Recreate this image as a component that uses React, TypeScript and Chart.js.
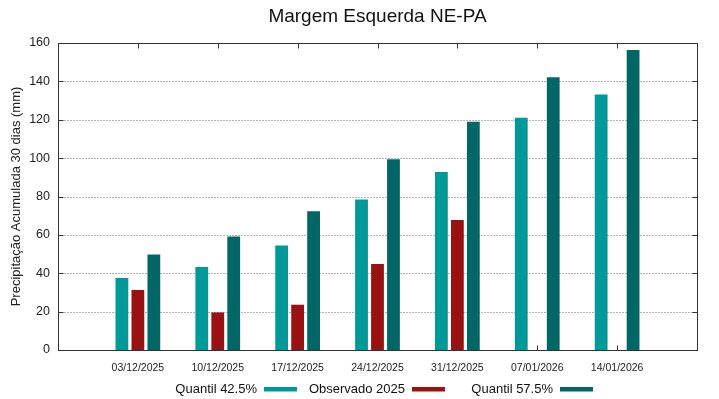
import React, { useEffect, useRef } from "react";
import { Chart, registerables } from "chart.js";

Chart.register(...registerables);

const titleText = "Margem Esquerda NE-PA";
const yAxisTitle = "Precipitação Acumulada 30 dias (mm)";
const dates = ["03/12/2025", "10/12/2025", "17/12/2025", "24/12/2025", "31/12/2025", "07/01/2026", "14/01/2026"];
const quantil425 = [37.5, 43.3, 54.4, 78.5, 92.8, 121.1, 133.1];
const observado2025 = [31.3, 19.6, 23.6, 44.8, 67.8, null, null];
const quantil575 = [49.8, 59.1, 72.3, 99.4, 119.0, 142.1, 156.4];
const seriesNames = ["Quantil 42.5%", "Observado 2025", "Quantil 57.5%"];
const seriesColors = ["#009999", "#991111", "#006666"];
const yMin = 0;
const yMax = 160;
const yStep = 20;

const FONT = '"Liberation Sans", Arial, sans-serif';

const pad = (arr: (number | null)[]) => [null, ...arr, null];

const decorPlugin = {
  id: "decor",
  beforeDatasetsDraw(chart: any) {
    const { ctx, chartArea: a, scales } = chart;
    const y = scales.y;
    ctx.save();
    ctx.strokeStyle = "#b4b4b4";
    ctx.lineWidth = 1;
    ctx.setLineDash([2, 1]);
    for (const t of y.ticks) {
      if (t.value === yMin || t.value === yMax) continue;
      const py = Math.round(y.getPixelForValue(t.value)) + 0.5;
      ctx.beginPath();
      ctx.moveTo(a.left, py);
      ctx.lineTo(a.right, py);
      ctx.stroke();
    }
    ctx.restore();
  },
  afterDatasetsDraw(chart: any) {
    const { ctx, chartArea: a, scales } = chart;
    const y = scales.y;
    const x = scales.x;
    ctx.save();
    ctx.strokeStyle = "#333333";
    ctx.lineWidth = 1;
    const L = Math.round(a.left) + 0.5;
    const R = Math.round(a.right) + 0.5;
    const T = Math.round(a.top) + 0.5;
    const B = Math.round(a.bottom) + 0.5;
    ctx.strokeRect(L, T, R - L, B - T);
    const tl = 5;
    ctx.beginPath();
    for (const t of y.ticks) {
      const py = Math.round(y.getPixelForValue(t.value)) + 0.5;
      ctx.moveTo(L, py);
      ctx.lineTo(L + tl, py);
      ctx.moveTo(R, py);
      ctx.lineTo(R - tl, py);
    }
    for (let i = 0; i < dates.length; i++) {
      const px = Math.round(x.getPixelForValue(i + 1)) + 0.5;
      ctx.moveTo(px, T);
      ctx.lineTo(px, T + tl);
      ctx.moveTo(px, B);
      ctx.lineTo(px, B - tl);
    }
    ctx.stroke();

    // title
    ctx.fillStyle = "#111111";
    ctx.font = `19px ${FONT}`;
    ctx.textAlign = "center";
    ctx.textBaseline = "alphabetic";
    const cx = (a.left + a.right) / 2;
    ctx.fillText(titleText, cx, 22);

    // legend (text then swatch, gnuplot style)
    const colW = 148;
    const start = cx - (colW * chart.data.datasets.length) / 2;
    ctx.font = `13px ${FONT}`;
    ctx.textAlign = "right";
    chart.data.datasets.forEach((ds: any, i: number) => {
      const c0 = start + i * colW;
      ctx.fillStyle = "#111111";
      ctx.fillText(ds.label, c0 + 101.5, 393);
      ctx.fillStyle = ds.backgroundColor;
      ctx.fillRect(c0 + 108.5, 387, 33, 4.5);
    });
    ctx.restore();
  },
};

export default function App() {
  const ref = useRef<HTMLCanvasElement | null>(null);
  useEffect(() => {
    document.body.style.margin = "0";
    const canvas = ref.current;
    if (!canvas) return;
    const seriesData = [quantil425, observado2025, quantil575];
    const chart = new Chart(canvas, {
      type: "bar",
      data: {
        labels: ["", ...dates, ""],
        datasets: seriesData.map((d, i) => ({
          label: seriesNames[i],
          data: pad(d),
          backgroundColor: seriesColors[i],
          borderWidth: 0,
          categoryPercentage: 0.6,
          barPercentage: 0.8,
        })),
      },
      options: {
        responsive: false,
        animation: false,
        devicePixelRatio: 1,
        layout: { padding: { top: 43, right: 22, left: 0, bottom: 0 } },
        plugins: {
          legend: { display: false },
          title: { display: false },
          tooltip: { enabled: false },
        },
        scales: {
          x: {
            type: "category",
            offset: false,
            grid: { display: false, drawTicks: false },
            border: { display: false },
            ticks: {
              autoSkip: false,
              maxRotation: 0,
              padding: 12,
              color: "#222222",
              font: { family: FONT, size: 10.5 },
            },
            afterFit: (s: any) => {
              s.height = 49;
            },
          },
          y: {
            min: yMin,
            max: yMax,
            grid: { display: false, drawTicks: false },
            border: { display: false },
            ticks: {
              stepSize: yStep,
              padding: 8,
              color: "#222222",
              font: { family: FONT, size: 12.5 },
            },
            title: {
              display: true,
              text: yAxisTitle,
              color: "#222222",
              font: { family: FONT, size: 13 },
              padding: { top: 9, bottom: 0 },
            },
            afterFit: (s: any) => {
              s.width = 58;
            },
          },
        },
      },
      plugins: [decorPlugin],
    });
    return () => chart.destroy();
  }, []);
  return (
    <div style={{ width: 719, height: 399 }}>
      <canvas ref={ref} width={719} height={399} style={{ display: "block", width: 719, height: 399 }} />
    </div>
  );
}
